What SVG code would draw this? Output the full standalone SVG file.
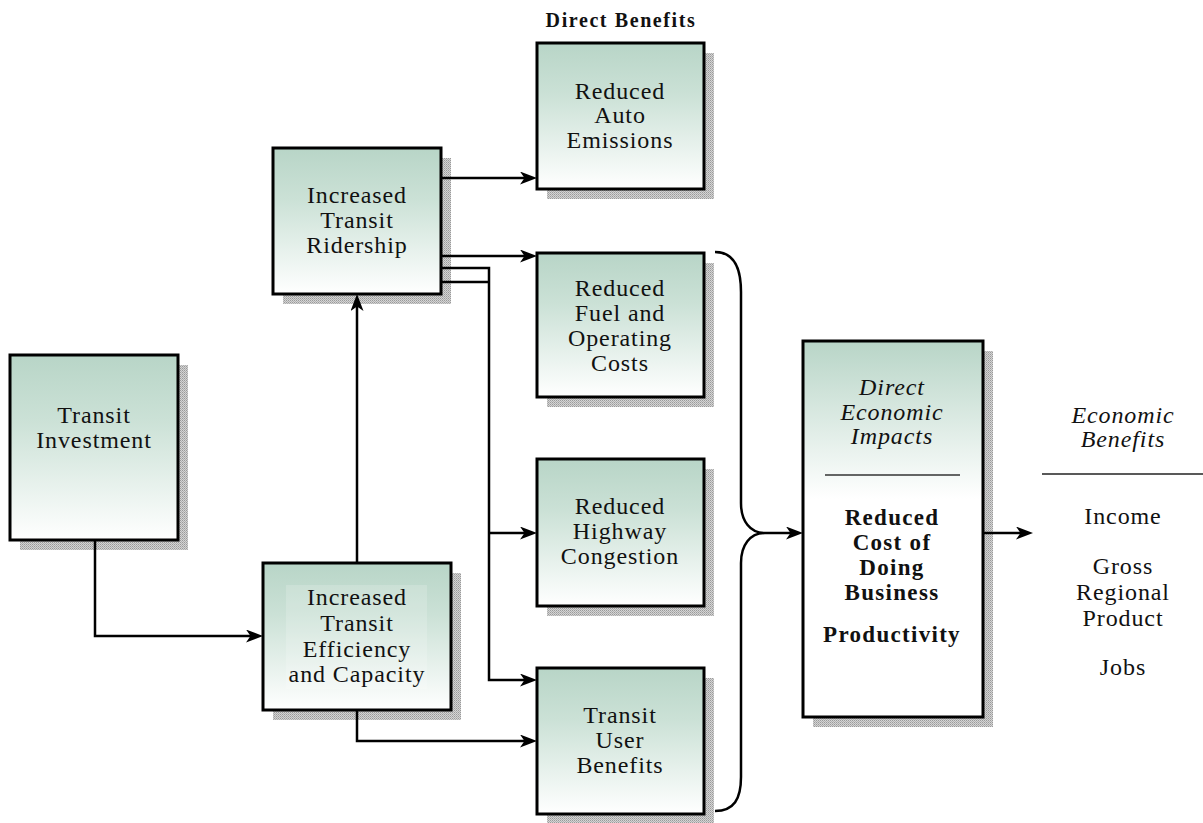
<svg xmlns="http://www.w3.org/2000/svg" width="1203" height="823" viewBox="0 0 1203 823">
<style>
.box{stroke:#000;stroke-width:3;fill:url(#g)}
.sh{fill:url(#dots)}
.t{font-family:"Liberation Serif","Times New Roman",serif;font-size:24px;letter-spacing:0.9px;fill:#111;text-anchor:middle}
.b{font-weight:bold;font-size:23px;letter-spacing:1.3px}
.i{font-style:italic}
.c{fill:none;stroke:#000;stroke-width:2.5}
</style>
<defs>
<linearGradient id="g" x1="0" y1="0" x2="0" y2="1">
<stop offset="0" stop-color="#b8d5c7"/>
<stop offset="0.35" stop-color="#cbe1d6"/>
<stop offset="1" stop-color="#ffffff"/>
</linearGradient>
<linearGradient id="g2" x1="0" y1="0" x2="0" y2="1">
<stop offset="0" stop-color="#b8d5c7"/>
<stop offset="0.42" stop-color="#ffffff"/>
<stop offset="1" stop-color="#ffffff"/>
</linearGradient>
<pattern id="dots" width="2" height="2" patternUnits="userSpaceOnUse">
<rect width="2" height="2" fill="#d4d4d4"/>
<rect width="1" height="1" fill="#9a9a9a"/>
<rect x="1" y="1" width="1" height="1" fill="#b0b0b0"/>
</pattern>
<marker id="ah" markerUnits="userSpaceOnUse" markerWidth="17" markerHeight="13" refX="5" refY="6.5" orient="auto" viewBox="0 0 17 13">
<path d="M0,0 L17,6.5 L0,13 L4.5,6.5 z" fill="#000"/>
</marker>
</defs>
<rect width="1203" height="823" fill="#fff"/>

<text class="t b" x="621" y="27" style="font-size:20px;letter-spacing:1.6px">Direct Benefits</text>

<g id="transit-investment">
<rect class="sh" x="20" y="365" width="168" height="185"/>
<rect class="box" x="10" y="355" width="168" height="185"/>
<text class="t" x="94" y="423">Transit</text>
<text class="t" x="94" y="448">Investment</text>
</g>

<g id="ridership">
<rect class="sh" x="283" y="158" width="168" height="146"/>
<rect class="box" x="273" y="148" width="168" height="146"/>
<text class="t" x="357" y="203">Increased</text>
<text class="t" x="357" y="228">Transit</text>
<text class="t" x="357" y="253">Ridership</text>
</g>

<g id="efficiency">
<rect class="sh" x="273" y="573" width="188" height="147"/>
<rect class="box" x="263" y="563" width="188" height="147"/>
<rect x="286" y="585" width="141" height="104" fill="#fff" opacity="0.18"/>
<text class="t" x="357" y="605">Increased</text>
<text class="t" x="357" y="631">Transit</text>
<text class="t" x="357" y="657">Efficiency</text>
<text class="t" x="357" y="682">and Capacity</text>
</g>

<g id="auto-emissions">
<rect class="sh" x="547" y="53" width="167" height="146"/>
<rect class="box" x="537" y="43" width="167" height="146"/>
<text class="t" x="620" y="99">Reduced</text>
<text class="t" x="620" y="123">Auto</text>
<text class="t" x="620" y="148">Emissions</text>
</g>

<g id="fuel-costs">
<rect class="sh" x="547" y="263" width="167" height="144"/>
<rect class="box" x="537" y="253" width="167" height="144"/>
<text class="t" x="620" y="296">Reduced</text>
<text class="t" x="620" y="321">Fuel and</text>
<text class="t" x="620" y="346">Operating</text>
<text class="t" x="620" y="371">Costs</text>
</g>

<g id="highway-congestion">
<rect class="sh" x="547" y="469" width="167" height="147"/>
<rect class="box" x="537" y="459" width="167" height="147"/>
<text class="t" x="620" y="514">Reduced</text>
<text class="t" x="620" y="539">Highway</text>
<text class="t" x="620" y="564">Congestion</text>
</g>

<g id="user-benefits">
<rect class="sh" x="547" y="678" width="167" height="146"/>
<rect class="box" x="537" y="668" width="167" height="146"/>
<text class="t" x="620" y="723">Transit</text>
<text class="t" x="620" y="748">User</text>
<text class="t" x="620" y="773">Benefits</text>
</g>

<g id="direct-economic-impacts">
<rect class="sh" x="813" y="351" width="180" height="376"/>
<rect x="803" y="341" width="180" height="376" fill="url(#g2)" stroke="#000" stroke-width="3"/>
<text class="t i" x="892" y="395">Direct</text>
<text class="t i" x="892" y="420">Economic</text>
<text class="t i" x="892" y="444">Impacts</text>
<line x1="825" y1="475" x2="960" y2="475" stroke="#333" stroke-width="1.5"/>
<text class="t b" x="892" y="525">Reduced</text>
<text class="t b" x="892" y="550">Cost of</text>
<text class="t b" x="892" y="575">Doing</text>
<text class="t b" x="892" y="600">Business</text>
<text class="t b" x="892" y="642">Productivity</text>
</g>

<g id="economic-benefits">
<text class="t i" x="1123" y="423">Economic</text>
<text class="t i" x="1123" y="447">Benefits</text>
<line x1="1042" y1="474" x2="1203" y2="474" stroke="#222" stroke-width="1.5"/>
<text class="t" x="1123" y="524">Income</text>
<text class="t" x="1123" y="574">Gross</text>
<text class="t" x="1123" y="600">Regional</text>
<text class="t" x="1123" y="626">Product</text>
<text class="t" x="1123" y="675">Jobs</text>
</g>

<g id="connectors">
<polyline class="c" points="95,540 95,636 251,636" marker-end="url(#ah)"/>
<polyline class="c" points="357,563 357,306" marker-end="url(#ah)"/>
<polyline class="c" points="357,710 357,741 525,741" marker-end="url(#ah)"/>
<polyline class="c" points="441,178 525,178" marker-end="url(#ah)"/>
<polyline class="c" points="441,256 525,256" marker-end="url(#ah)"/>
<polyline class="c" points="441,268 489,268 489,680 525,680" marker-end="url(#ah)"/>
<polyline class="c" points="441,282 489,282"/>
<polyline class="c" points="489,533 525,533" marker-end="url(#ah)"/>
<path class="c" d="M715,252 C734,252 741,268 741,292 L741,503 C741,521 750,533 765,533 C750,533 741,545 741,563 L741,777 C741,799 734,811 715,811"/>
<polyline class="c" points="765,533 791,533" marker-end="url(#ah)"/>
<polyline class="c" points="983,533 1021,533" marker-end="url(#ah)"/>
</g>
</svg>
